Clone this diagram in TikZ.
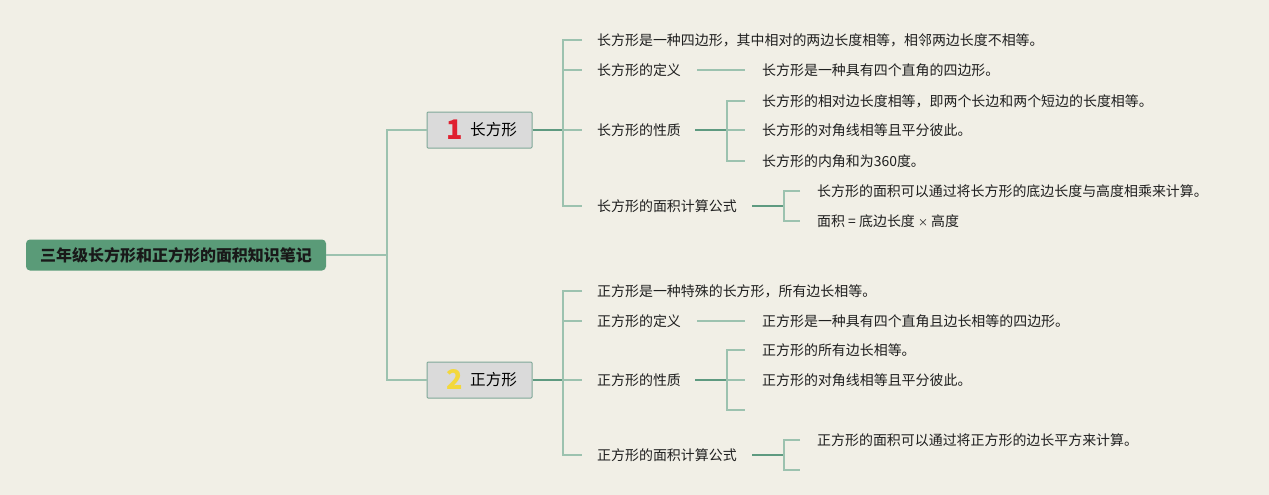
\documentclass[tikz,border=0pt]{standalone}
\usepackage{fontspec}
\setmainfont{Noto Sans CJK SC}
\definecolor{bg}{HTML}{F1EFE6}
\definecolor{rootg}{HTML}{5A9B78}
\definecolor{thinl}{HTML}{9CC2AF}
\definecolor{thickl}{HTML}{5E9A80}
\definecolor{boxf}{HTML}{DADADA}
\definecolor{boxd}{HTML}{7FA898}
\definecolor{numred}{HTML}{E0202F}
\definecolor{numyel}{HTML}{F3D83C}
\begin{document}
\begin{tikzpicture}[x=1pt,y=-1pt,
  txt/.style={anchor=west,inner sep=0pt,font=\fontsize{13.95}{16}\selectfont,text=black!88},
  thin/.style={draw=thinl,line width=1.3pt},
  thick/.style={draw=thickl,line width=2pt},
  topic/.style={draw=boxd,fill=boxf,line width=1pt,minimum width=105pt,minimum height=36pt,inner sep=0pt,rounded corners=1pt},
  num/.style={anchor=center,inner sep=0pt,font=\bfseries\fontsize{27}{27}\selectfont},
]
\fill[bg] (0,0) rectangle (1269,495);
\useasboundingbox (0,0) rectangle (1269,495);

% root
\node[fill=rootg,rounded corners=4pt,minimum width=300pt,minimum height=31pt,inner sep=0pt,
  font=\bfseries\fontsize{16}{18}\selectfont,text=black!90] (root) at (176,255) {三年级长方形和正方形的面积知识笔记};

% topics
\node[topic] (t1) at (479.5,130) {};
\node[num,text=numred] (n1) at (455,130) {1};
\node[anchor=west,inner sep=0pt,font=\fontsize{15.6}{18}\selectfont] (l1) at (470,130) {长方形};
\node[topic] (t2) at (479.5,380) {};
\node[num,text=numyel] (n2) at (455,380) {2};
\node[anchor=west,inner sep=0pt,font=\fontsize{15.6}{18}\selectfont] (l2) at (470,380) {正方形};

\coordinate (rj) at (387,255);
\draw[thin] (root.east) -- (rj);
\draw[thin] (t1.west) -| (rj) |- (t2.west);

% ---------- rectangle branch
\node[txt] (a1) at (597,40) {长方形是一种四边形，其中相对的两边长度相等，相邻两边长度不相等。};
\node[txt] (a2) at (597,70) {长方形的定义};
\node[txt] (a3) at (597,130) {长方形的性质};
\node[txt] (a4) at (597,206) {长方形的面积计算公式};
\coordinate (j1) at (563,130);
\draw[thick] (t1.east) -- (j1);
\draw[thin] (582,40) -| (563,206) -- (582,206);
\draw[thin] (563,70) -- (582,70);
\draw[thin] (563,130) -- (582,130);

\node[txt] (a2a) at (762,70) {长方形是一种具有四个直角的四边形。};
\draw[thin] (697,70) -- (745,70);

\node[txt] (a3a) at (762,101) {长方形的相对边长度相等，即两个长边和两个短边的长度相等。};
\node[txt] (a3b) at (762,130) {长方形的对角线相等且平分彼此。};
\node[txt] (a3c) at (762,161) {长方形的内角和为360度。};
\draw[thick] (695,130) -- (727,130);
\draw[thin] (745,101) -| (727,161) -- (745,161);
\draw[thin] (727,130) -- (745,130);

\node[txt] (a4a) at (817,191) {长方形的面积可以通过将长方形的底边长度与高度相乘来计算。};
\node[txt] (a4b) at (817,221) {面积 = 底边长度 {\fontsize{10}{12}\selectfont ×} 高度};
\draw[thick] (752,206) -- (784,206);
\draw[thin] (800,191) -| (784,221) -- (800,221);

% ---------- square branch
\node[txt] (b1) at (597,291) {正方形是一种特殊的长方形，所有边长相等。};
\node[txt] (b2) at (597,321) {正方形的定义};
\node[txt] (b3) at (597,380) {正方形的性质};
\node[txt] (b4) at (597,455) {正方形的面积计算公式};
\coordinate (j2) at (563,380);
\draw[thick] (t2.east) -- (j2);
\draw[thin] (582,291) -| (563,455) -- (582,455);
\draw[thin] (563,321) -- (582,321);
\draw[thin] (563,380) -- (582,380);

\node[txt] (b2a) at (762,321) {正方形是一种具有四个直角且边长相等的四边形。};
\draw[thin] (697,321) -- (745,321);

\node[txt] (b3a) at (762,350) {正方形的所有边长相等。};
\node[txt] (b3b) at (762,380) {正方形的对角线相等且平分彼此。};
\draw[thick] (695,380) -- (727,380);
\draw[thin] (745,350) -| (727,410) -- (745,410);
\draw[thin] (727,380) -- (745,380);

\node[txt] (b4a) at (817,440) {正方形的面积可以通过将正方形的边长平方来计算。};
\draw[thick] (752,455) -- (784,455);
\draw[thin] (800,440) -| (784,470) -- (800,470);
\end{tikzpicture}
\end{document}
